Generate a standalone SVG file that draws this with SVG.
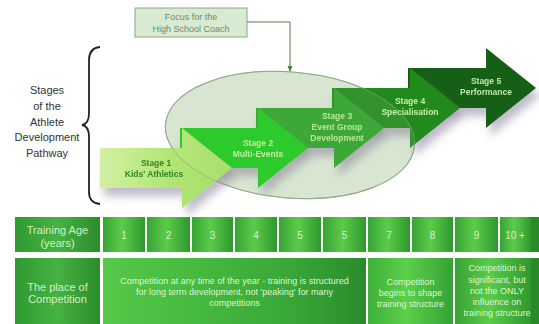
<svg xmlns="http://www.w3.org/2000/svg" width="539" height="324" viewBox="0 0 539 324">
<defs>
<style>
.lbl{font-family:"Liberation Sans",Arial,sans-serif;font-size:11px;fill:#333;text-anchor:middle}
.foc{font-family:"Liberation Sans",Arial,sans-serif;font-size:9px;fill:#6f8a66;text-anchor:middle}
.st{font-family:"Liberation Sans",Arial,sans-serif;font-size:8.5px;font-weight:bold;text-anchor:middle}
.hd{font-family:"Liberation Sans",Arial,sans-serif;font-size:11px;fill:#d2f0c4;text-anchor:middle}
.num{font-family:"Liberation Sans",Arial,sans-serif;font-size:10px;fill:#d2f0c4;text-anchor:middle}
.ct{font-family:"Liberation Sans",Arial,sans-serif;font-size:9px;fill:#dcf6cc;text-anchor:middle}
.conn{fill:none;stroke:#4f7d42;stroke-width:1}
</style>
<linearGradient id="cellG" x1="0" y1="0" x2="1" y2="0">
<stop offset="0" stop-color="#37a334"/><stop offset="0.45" stop-color="#5ccb4a"/><stop offset="1" stop-color="#2e982e"/>
</linearGradient>
<linearGradient id="hdrG" x1="0" y1="0" x2="1" y2="0">
<stop offset="0" stop-color="#2f9a30"/><stop offset="0.5" stop-color="#46b242"/><stop offset="1" stop-color="#2c8c2c"/>
</linearGradient>
<linearGradient id="bigG" x1="0" y1="0" x2="1" y2="0">
<stop offset="0" stop-color="#56c94b"/><stop offset="0.35" stop-color="#46b93f"/><stop offset="0.7" stop-color="#3aa838"/><stop offset="1" stop-color="#2b8b2b"/>
</linearGradient>
<linearGradient id="midG" x1="0" y1="0" x2="1" y2="0">
<stop offset="0" stop-color="#3db13a"/><stop offset="0.45" stop-color="#5ccf4a"/><stop offset="1" stop-color="#35a235"/>
</linearGradient>
<linearGradient id="s1G" x1="0" y1="0" x2="1" y2="0">
<stop offset="0" stop-color="#d2f0a4"/><stop offset="0.5" stop-color="#b4e676"/><stop offset="1" stop-color="#a2de62"/>
</linearGradient>
<filter id="sh" x="-20%" y="-20%" width="150%" height="160%">
<feDropShadow dx="4" dy="8" stdDeviation="4" flood-color="#75688a" flood-opacity="0.45"/>
</filter>
<marker id="ah" viewBox="0 0 6 6" refX="5" refY="3" markerWidth="6" markerHeight="6" orient="auto">
<path d="M0,0.5 L6,3 L0,5.5 z" fill="#4f7d42"/>
</marker>
</defs>
<rect width="539" height="324" fill="#ffffff"/>

<g id="pathway-label">
<path d="M100,47 Q89,48 89,60 L89,113 Q89,124 82,125 Q89,126 89,137 L89,192 Q89,203 100,204" fill="none" stroke="#222" stroke-width="1.8"/>
<text class="lbl" x="47" y="94">Stages</text>
<text class="lbl" x="47" y="110">of the</text>
<text class="lbl" x="47" y="126">Athlete</text>
<text class="lbl" x="47" y="141">Development</text>
<text class="lbl" x="47" y="157">Pathway</text>
</g>

<g id="focus">
<rect x="135" y="8" width="112" height="29" fill="#d9ead3" stroke="#8aa880" stroke-width="1"/>
<text class="foc" x="191" y="20">Focus for the</text>
<text class="foc" x="191" y="32">High School Coach</text>
</g>

<g id="focus-zone">
<ellipse cx="290" cy="135" rx="125" ry="63" transform="rotate(5 290 135)" fill="#d6e5d0" stroke="#8ea886" stroke-width="1"/>
</g>

<g id="stage5" filter="url(#sh)">
<path d="M408,68 L486,68 L486,48 L536,88 L486,128 L486,108 L408,108 Z" fill="#165e12"/>
<text class="st" x="486" y="84" fill="#bfeaa6">Stage 5</text>
<text class="st" x="486" y="95" fill="#bfeaa6">Performance</text>
</g>
<g id="stage4" filter="url(#sh)">
<path d="M332,88 L410,88 L410,68 L460,108 L410,148 L410,128 L332,128 Z" fill="#228a1e"/>
<text class="st" x="410" y="104" fill="#c4f0aa">Stage 4</text>
<text class="st" x="410" y="115" fill="#c4f0aa">Specialisation</text>
</g>
<g id="stage3" filter="url(#sh)">
<path d="M256,108 L334,108 L334,88 L384,128 L334,168 L334,148 L256,148 Z" fill="#2ea22a"/>
<text class="st" x="337" y="119" fill="#b0e890">Stage 3</text>
<text class="st" x="337" y="130" fill="#b0e890">Event Group</text>
<text class="st" x="337" y="141" fill="#b0e890">Development</text>
</g>
<g id="stage2" filter="url(#sh)">
<path d="M180,128 L258,128 L258,108 L308,148 L258,188 L258,168 L180,168 Z" fill="#1cc81c"/>
<text class="st" x="258" y="146" fill="#bfeaa0">Stage 2</text>
<text class="st" x="258" y="157" fill="#bfeaa0">Multi-Events</text>
</g>
<g id="stage1" filter="url(#sh)">
<path d="M100,148 L182,148 L182,128 L232,168 L182,208 L182,188 L100,188 Z" fill="url(#s1G)"/>
<text class="st" x="156" y="166" fill="#2c8a22">Stage 1</text>
<text class="st" x="154" y="177" fill="#2c8a22">Kids' Athletics</text>
</g>

<ellipse cx="290" cy="135" rx="125" ry="63" transform="rotate(5 290 135)" fill="#eef4ea" fill-opacity="0.08" stroke="#8ea886" stroke-opacity="0.6" stroke-width="1"/>

<g id="connectors">
<polyline class="conn" points="247,22 290,22 290,71" marker-end="url(#ah)"/>
</g>

<g id="training-age-row">
<rect x="531" y="217" width="8" height="35" fill="#2a8a2a"/>
<rect x="15" y="217" width="85" height="35" fill="url(#hdrG)"/>
<text class="hd" x="57.5" y="233.5">Training Age</text>
<text class="hd" x="57.5" y="246.5">(years)</text>
<rect x="103" y="217" width="42" height="35" fill="url(#cellG)"/>
<rect x="147" y="217" width="43" height="35" fill="url(#cellG)"/>
<rect x="192" y="217" width="41" height="35" fill="url(#cellG)"/>
<rect x="235" y="217" width="42" height="35" fill="url(#cellG)"/>
<rect x="279" y="217" width="42" height="35" fill="url(#cellG)"/>
<rect x="323" y="217" width="43" height="35" fill="url(#cellG)"/>
<rect x="368" y="217" width="42" height="35" fill="url(#cellG)"/>
<rect x="412" y="217" width="41" height="35" fill="url(#cellG)"/>
<rect x="455" y="217" width="43" height="35" fill="url(#cellG)"/>
<rect x="500" y="217" width="31" height="35" fill="url(#cellG)"/>
<text class="num" x="124" y="238.5">1</text>
<text class="num" x="168.5" y="238.5">2</text>
<text class="num" x="212.5" y="238.5">3</text>
<text class="num" x="256" y="238.5">4</text>
<text class="num" x="300" y="238.5">5</text>
<text class="num" x="344.5" y="238.5">5</text>
<text class="num" x="389" y="238.5">7</text>
<text class="num" x="432.5" y="238.5">8</text>
<text class="num" x="476.5" y="238.5">9</text>
<text class="num" x="515" y="238.5">10 +</text>
</g>

<g id="competition-row">
<rect x="531" y="258" width="8" height="66" fill="#2a8a2a"/>
<rect x="15" y="258" width="85" height="66" fill="url(#hdrG)"/>
<text class="hd" x="57.5" y="290.5">The place of</text>
<text class="hd" x="57.5" y="303">Competition</text>
<rect x="103" y="258" width="263" height="66" fill="url(#bigG)"/>
<text class="ct" x="234.5" y="284">Competition at any time of the year - training is structured</text>
<text class="ct" x="234.5" y="295">for long term development, not 'peaking' for many</text>
<text class="ct" x="234.5" y="305.5">competitions</text>
<rect x="368" y="258" width="85" height="66" fill="url(#midG)"/>
<text class="ct" x="410.5" y="285">Competition</text>
<text class="ct" x="410.5" y="296">begins to shape</text>
<text class="ct" x="410.5" y="307">training structure</text>
<rect x="455" y="258" width="76" height="66" fill="url(#cellG)"/>
<text class="ct" x="497" y="271">Competition is</text>
<text class="ct" x="497" y="283">significant, but</text>
<text class="ct" x="497" y="294">not the ONLY</text>
<text class="ct" x="497" y="305">influence on</text>
<text class="ct" x="497" y="316">training structure</text>
</g>
</svg>
